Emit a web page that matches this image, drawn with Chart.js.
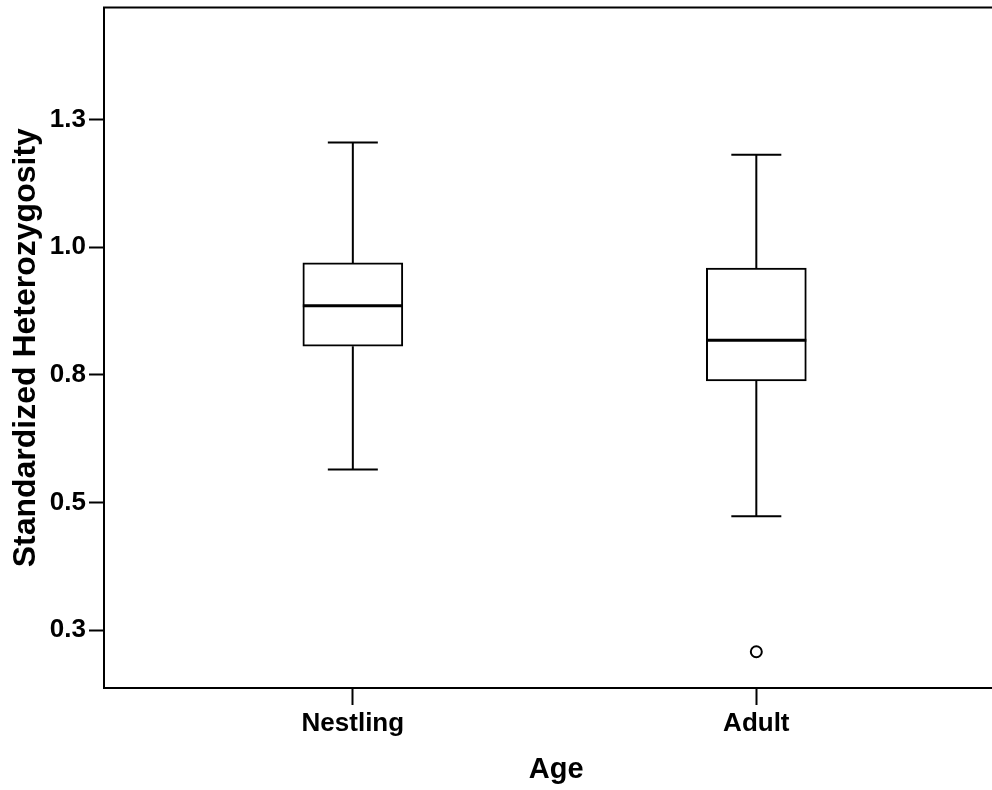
<!DOCTYPE html>
<html>
<head>
<meta charset="utf-8">
<script src="https://cdn.jsdelivr.net/npm/chart.js@4/dist/chart.umd.min.js"></script>
<style>
  html, body { margin: 0; padding: 0; background: #fff; overflow: hidden; }
  #wrap { width: 1016px; height: 790px; }
</style>
</head>
<body>
<div id="wrap"><canvas id="myChart" width="1016" height="790"></canvas></div>
<script>
// box plot summary values
var categories = ["Nestling", "Adult"];
var whiskerLow = [0.5645, 0.473];
var q1 = [0.806, 0.738];
var median = [0.885, 0.8175];
var q3 = [0.969, 0.959];
var whiskerHigh = [1.205, 1.181];
var outlierCategory = ["Adult"];
var outlierValue = [0.2075];

// y ticks (labels rounded the way the original shows them)
var yTicks = [0.25, 0.5, 0.75, 1.0, 1.25];
var yTickLabels = ["0.3", "0.5", "0.8", "1.0", "1.3"];

var FONT = "'Liberation Sans', Arial, Helvetica, sans-serif";

var boxData = categories.map(function (c, i) {
    return { x: i + 1, y: [q1[i], q3[i]] };
});
var outlierData = outlierCategory.map(function (c, i) {
    return { x: categories.indexOf(c) + 1, y: outlierValue[i] };
});

// whiskers, medians and the frame, drawn through the chart scales
var boxExtras = {
    id: "boxExtras",
    beforeDatasetsDraw: function (chart) {
        var ctx = chart.ctx;
        var xs = chart.scales.x;
        var ys = chart.scales.y;
        ctx.save();
        ctx.strokeStyle = "#000";
        ctx.lineWidth = 2;
        categories.forEach(function (c, i) {
            var cx = xs.getPixelForValue(i + 1);
            var lo = ys.getPixelForValue(whiskerLow[i]);
            var hi = ys.getPixelForValue(whiskerHigh[i]);
            ctx.beginPath();
            ctx.moveTo(cx, ys.getPixelForValue(q1[i]));
            ctx.lineTo(cx, lo);
            ctx.moveTo(cx - 25, lo);
            ctx.lineTo(cx + 25, lo);
            ctx.moveTo(cx, ys.getPixelForValue(q3[i]));
            ctx.lineTo(cx, hi);
            ctx.moveTo(cx - 25, hi);
            ctx.lineTo(cx + 25, hi);
            ctx.stroke();
        });
        ctx.restore();
    },
    afterDatasetsDraw: function (chart) {
        var ctx = chart.ctx;
        var xs = chart.scales.x;
        var ys = chart.scales.y;
        var a = chart.chartArea;
        ctx.save();
        ctx.strokeStyle = "#000";
        ctx.lineWidth = 3;
        categories.forEach(function (c, i) {
            var cx = xs.getPixelForValue(i + 1);
            var m = ys.getPixelForValue(median[i]);
            ctx.beginPath();
            ctx.moveTo(cx - 50, m);
            ctx.lineTo(cx + 50, m);
            ctx.stroke();
        });
        ctx.lineWidth = 2;
        ctx.strokeRect(a.left, a.top, a.right - a.left, a.bottom - a.top);
        ctx.restore();
    }
};

var ctx = document.getElementById("myChart").getContext("2d");
var myChart = new Chart(ctx, {
    type: "bar",
    data: {
        datasets: [
            {
                type: "bar",
                label: "Box",
                data: boxData,
                backgroundColor: "#fff",
                borderColor: "#000",
                borderWidth: 2,
                borderSkipped: false,
                barThickness: 100,
            },
            {
                type: "scatter",
                label: "Outliers",
                data: outlierData,
                pointRadius: 5.5,
                pointBorderWidth: 2,
                pointBackgroundColor: "#fff",
                pointBorderColor: "#000",
            },
        ],
    },
    options: {
        responsive: false,
        animation: false,
        devicePixelRatio: 1,
        layout: { padding: { top: 7, right: 2, bottom: 0, left: 0 } },
        plugins: {
            legend: { display: false },
            tooltip: { enabled: false },
        },
        scales: {
            x: {
                type: "linear",
                offset: false,
                min: 0.3833,
                max: 2.625,
                afterBuildTicks: function (scale) {
                    scale.ticks = categories.map(function (c, i) { return { value: i + 1 }; });
                },
                afterFit: function (scale) {
                    scale.height = 102;
                    scale.paddingLeft = 0;
                    scale.paddingRight = 0;
                },
                ticks: {
                    autoSkip: false,
                    maxRotation: 0,
                    padding: 3,
                    color: "#000",
                    font: { family: FONT, size: 26, weight: "bold" },
                    callback: function (v, i) { return categories[i]; },
                },
                grid: {
                    offset: false,
                    drawOnChartArea: false,
                    tickLength: 17,
                    tickWidth: 2,
                    tickColor: "#000",
                },
                border: { display: false },
                title: {
                    display: true,
                    text: "Age",
                    color: "#000",
                    padding: { top: 0, bottom: 3 },
                    font: { family: FONT, size: 29, weight: "bold" },
                },
            },
            y: {
                min: 0.1365,
                max: 1.4692,
                afterBuildTicks: function (scale) {
                    scale.ticks = yTicks.map(function (v) { return { value: v }; });
                },
                afterFit: function (scale) {
                    scale.width = 104;
                    scale.paddingTop = 0;
                    scale.paddingBottom = 0;
                },
                ticks: {
                    padding: 3,
                    color: "#000",
                    font: { family: FONT, size: 26, weight: "bold" },
                    callback: function (v, i) { return yTickLabels[i]; },
                },
                grid: {
                    drawOnChartArea: false,
                    tickLength: 15,
                    tickWidth: 2,
                    tickColor: "#000",
                },
                border: { display: false },
                title: {
                    display: true,
                    text: "Standardized Heterozygosity",
                    color: "#000",
                    padding: { top: 7, bottom: 0 },
                    font: { family: FONT, size: 32, weight: "bold" },
                },
            },
        },
    },
    plugins: [boxExtras],
});
</script>
</body>
</html>
